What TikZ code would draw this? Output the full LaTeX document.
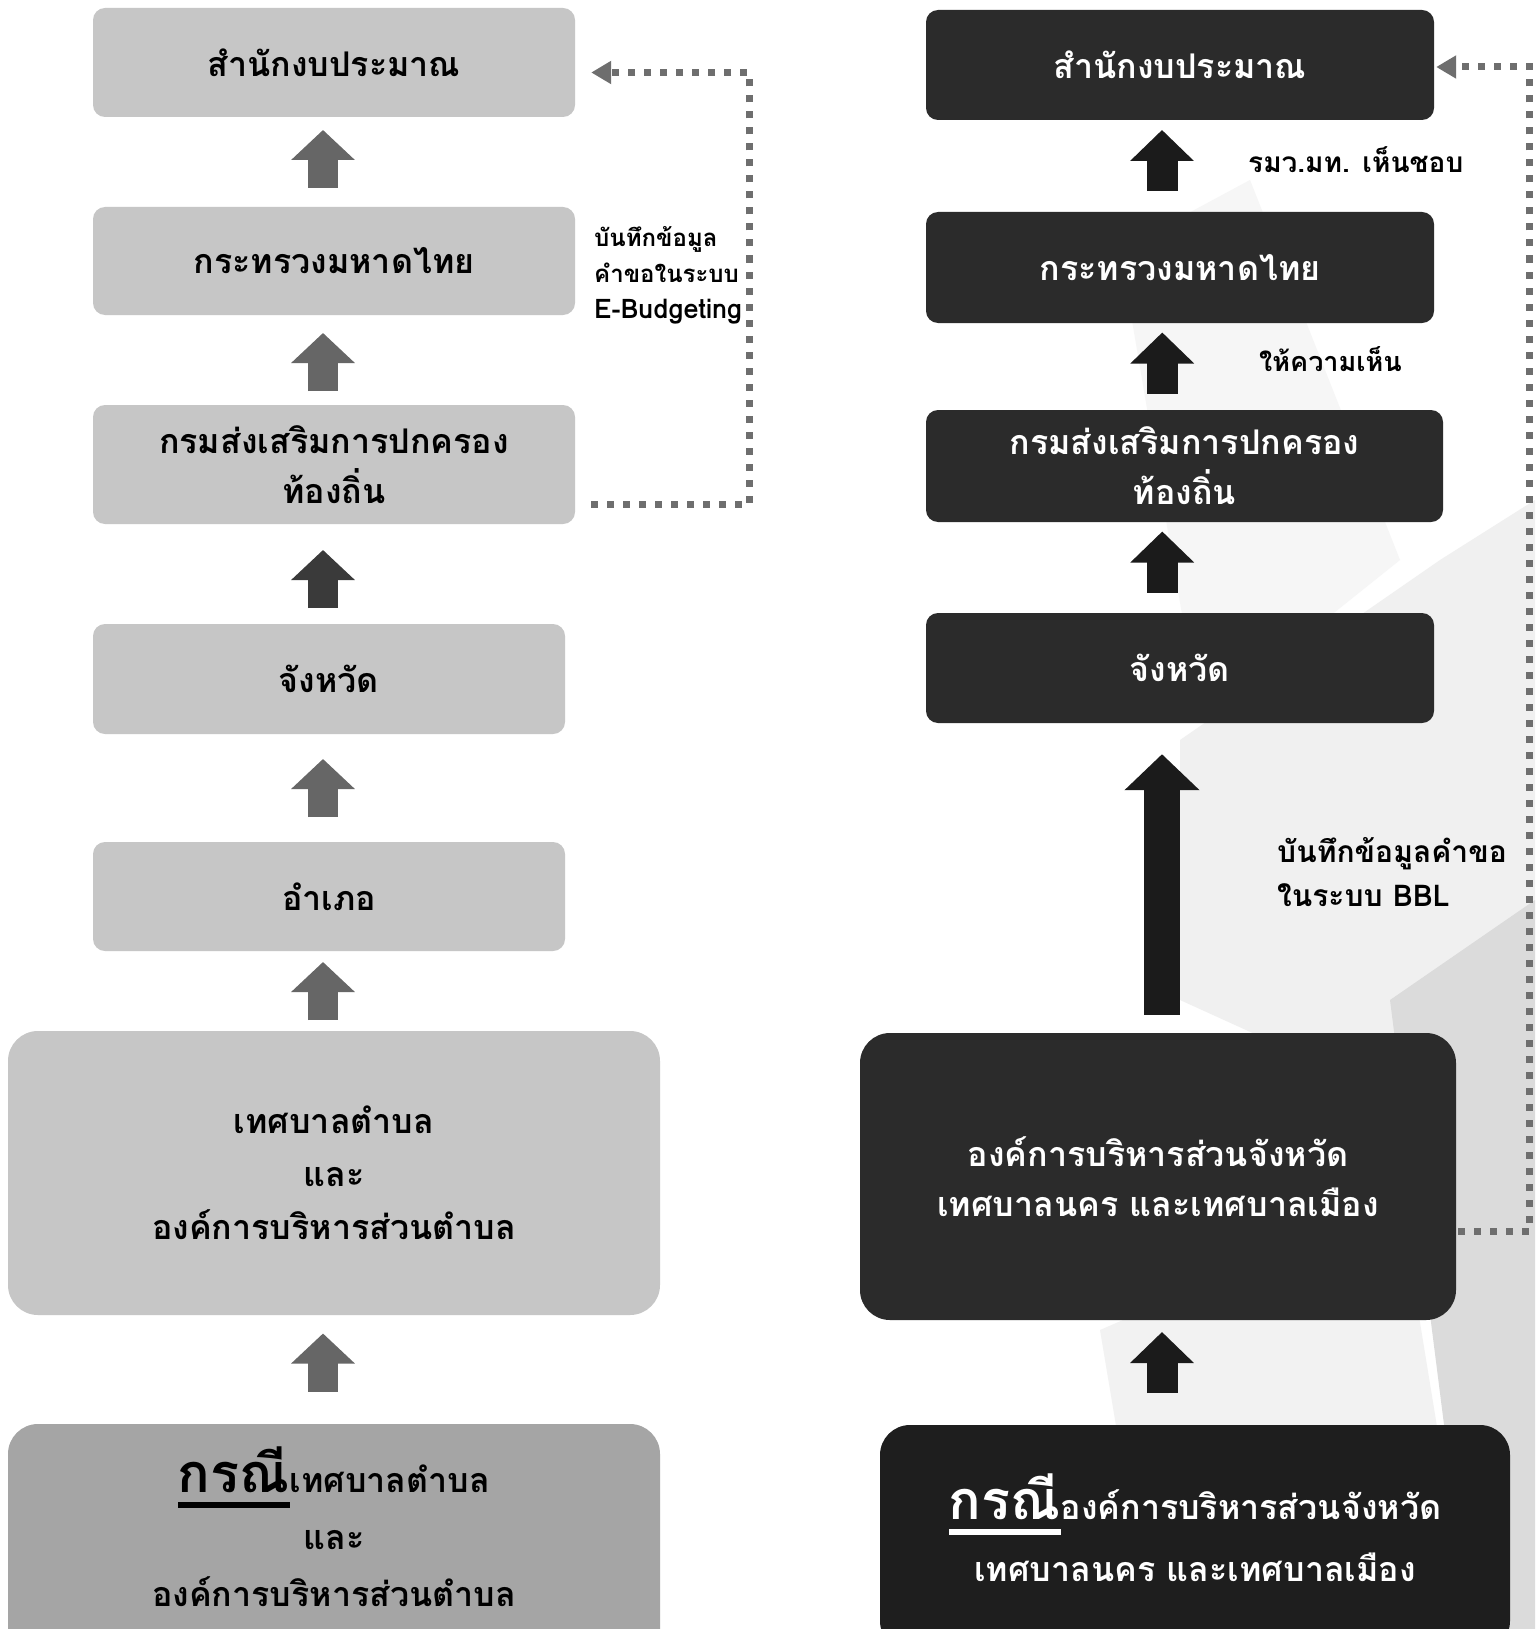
\documentclass[tikz,border=0pt]{standalone}
\usepackage{fontspec}
\newfontfamily\thai[Script=Thai]{Loma}
\usetikzlibrary{arrows.meta,calc}

\definecolor{lightbox}{HTML}{C6C6C6}
\definecolor{midbox}{HTML}{A5A5A5}
\definecolor{darkbox}{HTML}{2B2B2B}
\definecolor{blackbox}{HTML}{1E1E1E}
\definecolor{greyarrow}{HTML}{666666}
\definecolor{darkarrow}{HTML}{3A3A3A}
\definecolor{blackarrow}{HTML}{1B1B1B}
\definecolor{dotgrey}{HTML}{6E6E6E}

\newcommand{\kornee}[1]{\leavevmode\setbox0\hbox{#1}\rlap{\rule[-15pt]{\wd0}{6pt}}\box0}

\begin{document}
\begin{tikzpicture}[x=1pt, y=-1pt,
    box/.style={rectangle, rounded corners=12pt, inner sep=0pt, align=center,
                font=\thai\bfseries\fontsize{34}{50}\selectfont},
    lbox/.style={box, fill=lightbox, text=black},
    rbox/.style={box, fill=darkbox, text=white},
    boxtext/.style={inner sep=0pt, align=center, text=black,
                font=\thai\bfseries\fontsize{34}{53}\selectfont},
    sidenote/.style={anchor=west, align=left, inner sep=0pt,
                font=\thai\bfseries\fontsize{24}{36}\selectfont},
    uparrow/.style={line width=30pt, -{Triangle[length=30pt, width=62pt]}},
    dotline/.style={draw=dotgrey, line width=7pt, dash pattern=on 7pt off 9pt,
                -{Triangle[length=20pt, width=22pt]}}
]
\useasboundingbox[fill=white] (0,0) rectangle (1535,1629);

% background facets
\fill[gray!7] (1120,250) -- (1250,180) -- (1400,560) -- (1200,720) -- cycle;
\fill[gray!12] (1180,740) -- (1440,560) -- (1535,500) -- (1535,1000) -- (1400,1100) -- (1180,1000) -- cycle;
\fill[gray!10] (1100,1330) -- (1400,1200) -- (1470,1629) -- (1150,1629) -- cycle;
\fill[gray!28] (1390,1000) -- (1535,900) -- (1535,1629) -- (1470,1629) -- cycle;

% left column
\node[lbox, minimum width=482pt, minimum height=109pt] (L1) at (334,62.5) {สำนักงบประมาณ};
\node[lbox, minimum width=482pt, minimum height=108pt] (L2) at (334,261) {กระทรวงมหาดไทย};
\node[lbox, minimum width=482pt, minimum height=119pt] (L3) at (334,464.5) {กรมส่งเสริมการปกครอง\\ท้องถิ่น};
\node[lbox, minimum width=472pt, minimum height=110pt] (L4) at (329,679) {จังหวัด};
\node[lbox, minimum width=472pt, minimum height=109pt] (L5) at (329,896.5) {อำเภอ};
\node[lbox, rounded corners=30pt, minimum width=652pt, minimum height=284pt, font=\thai\bfseries\fontsize{34}{53}\selectfont]
    (L6) at (334,1173) {เทศบาลตำบล\\และ\\องค์การบริหารส่วนตำบล};
\node[lbox, fill=midbox, rounded corners=30pt, minimum width=652pt, minimum height=240pt] (L7) at (334,1544) {};
\node[boxtext, font=\thai\bfseries\fontsize{34}{57}\selectfont] (L7t) at ($(L7.center)+(0,-17)$)
    {\kornee{\fontsize{54}{60}\selectfont กรณี}เทศบาลตำบล\\และ\\องค์การบริหารส่วนตำบล};

% right column
\node[rbox, minimum width=508pt, minimum height=110pt] (R1) at (1180,65) {สำนักงบประมาณ};
\node[rbox, minimum width=508pt, minimum height=111pt] (R2) at (1180,267.5) {กระทรวงมหาดไทย};
\node[rbox, minimum width=517pt, minimum height=112pt] (R3) at (1184.5,466) {กรมส่งเสริมการปกครอง\\ท้องถิ่น};
\node[rbox, minimum width=508pt, minimum height=110pt] (R4) at (1180,668) {จังหวัด};
\node[rbox, rounded corners=30pt, minimum width=596pt, minimum height=287pt] (R5) at (1158,1176.5)
    {องค์การบริหารส่วนจังหวัด\\เทศบาลนคร และเทศบาลเมือง};
\node[rbox, fill=blackbox, rounded corners=30pt, minimum width=630pt, minimum height=226pt] (R6) at (1195,1538) {};
\node[boxtext, text=white, font=\thai\bfseries\fontsize{34}{62}\selectfont] (R6t) at ($(R6.center)+(0,-10)$)
    {\kornee{\fontsize{54}{60}\selectfont กรณี}องค์การบริหารส่วนจังหวัด\\เทศบาลนคร และเทศบาลเมือง};

% side notes
\node[sidenote] (n1) at (594,275) {บันทึกข้อมูล\\คำขอในระบบ\\{\fontsize{27}{36}\selectfont E-Budgeting}};
\node[sidenote, font=\thai\bfseries\fontsize{28}{34}\selectfont] (n2) at (1248,160) {รมว.มท. เห็นชอบ};
\node[sidenote, font=\thai\bfseries\fontsize{27}{34}\selectfont] (n3) at (1259,359) {ให้ความเห็น};
\node[sidenote, font=\thai\bfseries\fontsize{30}{44}\selectfont] (n4) at (1277,872) {บันทึกข้อมูลคำขอ\\ในระบบ BBL};

% block arrows
\foreach \a/\b/\dx/\dy/\c in {L2/L1/-11/-3/greyarrow, L3/L2/-11/2/greyarrow, L4/L3/-8.5/5/darkarrow,
                              L5/L4/-6/0/greyarrow, L6/L5/-8.5/0/greyarrow, L7/L6/-11/-7/greyarrow}
  \draw[uparrow, draw=\c] ($(\a.north)!.5!(\b.south)+(\dx,\dy+29)$) -- ++(0,-58);
\foreach \a/\b/\dx/\dy in {R2/R1/-18/-5.5, R3/R2/-20/-3.5, R4/R3/-20/-5.5, R6/R5/-14.5/-10}
  \draw[uparrow, draw=blackarrow, line width=31pt, -{Triangle[length=31pt, width=62pt]}]
    ($(\a.north)!.5!(\b.south)+(\dx,\dy+30.5)$) -- ++(0,-61);
\draw[uparrow, draw=blackarrow, line width=36pt, -{Triangle[length=36pt, width=73pt]}]
  ($(R5.north)+(4,-18)$) -- ($(R4.south)+(-18,31)$);

% dotted feedback lines
\draw[dotline] ($(L3.east)+(16,40)$) -| ($(L1.east)+(174,10)$) -- ($(L1.east)+(16,10)$);
\draw[dotline] ($(R5.east)+(2,55)$) -| ($(R1.east)+(95,2)$) -- ($(R1.east)+(2,2)$);
\end{tikzpicture}
\end{document}
